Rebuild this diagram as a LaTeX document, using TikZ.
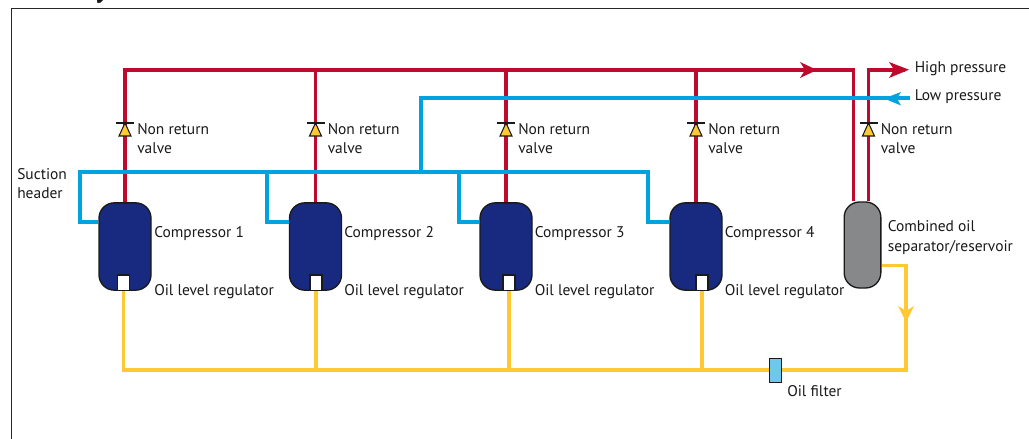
\documentclass[tikz,border=0pt]{standalone}
\usepackage{fontspec}
\setmainfont{PT Sans}
\usetikzlibrary{arrows.meta}
\definecolor{redp}{HTML}{BE0A2D}
\definecolor{bluep}{HTML}{00A3DF}
\definecolor{oilp}{HTML}{FFC933}
\definecolor{navy}{HTML}{172A80}
\definecolor{sepgray}{HTML}{87888A}
\definecolor{filt}{HTML}{6DC8EC}
\definecolor{ink}{HTML}{1A1A1A}
\tikzset{
  x=0.75pt,y=-0.75pt,
  pipe/.style={line width=2.7pt,line join=miter},
  hp/.style={pipe,draw=redp},
  lp/.style={pipe,draw=bluep},
  oil/.style={pipe,draw=oilp},
  tank/.style={draw=ink,line width=1pt,rounded corners=11.5pt,minimum width=39pt,minimum height=65.5pt,inner sep=0pt,fill=navy},
  septank/.style={tank,fill=sepgray,minimum width=27.5pt,minimum height=64.5pt},
  reg/.style={draw=ink,line width=1pt,fill=white,minimum width=9pt,minimum height=11.5pt,inner sep=0pt},
  filterbox/.style={draw=ink,line width=0.8pt,fill=filt,minimum width=8.5pt,minimum height=18.5pt,inner sep=0pt},
  lbl/.style={font=\fontsize{11.6pt}{14pt}\selectfont,text=ink,inner sep=0pt,anchor=base west},
  vbar/.style={draw=ink,line width=0.8pt},
  vtri/.style={draw=ink,line width=0.8pt,fill=oilp,line join=miter},
  headR/.style={fill=redp,draw=none},
  headB/.style={fill=bluep,draw=none},
  headO/.style={fill=oilp,draw=none},
}
\newcommand{\valve}[2]{%
  \filldraw[vtri] (#1,#2) -- (#1+6,#2+13) -- (#1-6,#2+13) -- cycle;
  \draw[vbar] (#1-9,#2) -- (#1+9,#2);
  \node[lbl] at (#1+12,#2+11) {Non return};
  \node[lbl] at (#1+12,#2+30) {valve};
}
\begin{document}
\begin{tikzpicture}
\useasboundingbox (0,0) rectangle (1029,439);
\fill[white] (0,0) rectangle (1029,439);
% frame and the cut-off descender above it
\draw[black!85,line width=0.9pt] (11.5,439) -- (11.5,8.5) -- (1029,8.5);
\fill[ink] (97,0) -- (103,0) -- (100.5,2.6) -- (97.5,3) -- cycle;
% named junctions
\coordinate (hL) at (125,70);
\coordinate (h2) at (315.5,70);
\coordinate (h3) at (506,70);
\coordinate (h4) at (696,70);
\coordinate (h5) at (853.5,70);
\coordinate (h6) at (868.5,70);
\coordinate (hEnd) at (905,70);
\coordinate (sL) at (80,172);
\coordinate (s2) at (267,172);
\coordinate (s3) at (459,172);
\coordinate (s4) at (648,172);
\coordinate (sUp) at (421,172);
\coordinate (lTurn) at (421,98);
\coordinate (lEnd) at (910,98);
\coordinate (oL) at (123.5,370);
\coordinate (o2) at (316,370);
\coordinate (o3) at (509,370);
\coordinate (o4) at (702,370);
\coordinate (oR) at (906,370);
\coordinate (oT) at (906,265.5);
% vessels
\node[tank] (c1) at (125,246.5) {};
\node[tank] (c2) at (315.5,246.5) {};
\node[tank] (c3) at (506,246.5) {};
\node[tank] (c4) at (696,246.5) {};
\node[septank] (sep) at (862.5,245) {};
% red
\draw[hp] (h5 |- sep.north) -- (h5) -- (hL) -- (hL |- c1.north);
\draw[hp] (h2) -- (c2.north);
\draw[hp] (h3) -- (c3.north);
\draw[hp] (h4) -- (c4.north);
\draw[hp] (h6 |- sep.north) -- (h6) -- (hEnd);
\fill[headR] (800,62) -- (817,70) -- (800,78) -- (805,70) -- cycle;
\fill[headR] (889,62) -- (909,69.7) -- (889,78) -- (894,69.7) -- cycle;
% blue
\draw[lp] (c1.west |- 0,222) -- (sL |- 0,222) -- (sL) -- (s4) -- (s4 |- 0,222) -- (c4.west |- 0,222);
\draw[lp] (c2.west |- 0,222) -- (s2 |- 0,222) -- (s2);
\draw[lp] (c3.west |- 0,222) -- (s3 |- 0,222) -- (s3);
\draw[lp] (sUp) -- (lTurn) -- (lEnd);
\fill[headB] (901,92) -- (884,98.5) -- (901,105.5) -- (897,98.5) -- cycle;
% oil
\node[reg] (r1) at (123.5,282.5) {};
\node[reg] (r2) at (316,282.5) {};
\node[reg] (r3) at (509,282.5) {};
\node[reg] (r4) at (702,282.5) {};
\draw[oil] (r1.south) -- (oL) -- (oR) -- (oT) -- (sep.east |- oT);
\draw[oil] (r2.south) -- (o2);
\draw[oil] (r3.south) -- (o3);
\draw[oil] (r4.south) -- (o4);
\fill[headO] (898,306) -- (906,322) -- (914,306) -- (906,311) -- cycle;
\node[filterbox] (ofilt) at (775.5,370.4) {};
% valves
\valve{125}{123}
\valve{315.5}{123}
\valve{506}{123}
\valve{696}{123}
\valve{868.5}{123}
% labels
\node[lbl] at (17,179) {Suction};
\node[lbl] at (17,198) {header};
\node[lbl] at (154,237) {Compressor 1};
\node[lbl] at (344,237) {Compressor 2};
\node[lbl] at (534.5,237) {Compressor 3};
\node[lbl] at (724.5,237) {Compressor 4};
\node[lbl] at (154,295) {Oil level regulator};
\node[lbl] at (344,295) {Oil level regulator};
\node[lbl] at (534.5,295) {Oil level regulator};
\node[lbl] at (724.5,295) {Oil level regulator};
\node[lbl] at (887.5,231) {Combined oil};
\node[lbl] at (887.5,251) {separator/reservoir};
\node[lbl] at (787,396) {Oil filter};
\node[lbl] at (914.5,72) {High pressure};
\node[lbl] at (914.5,100) {Low pressure};
\end{tikzpicture}
\end{document}
